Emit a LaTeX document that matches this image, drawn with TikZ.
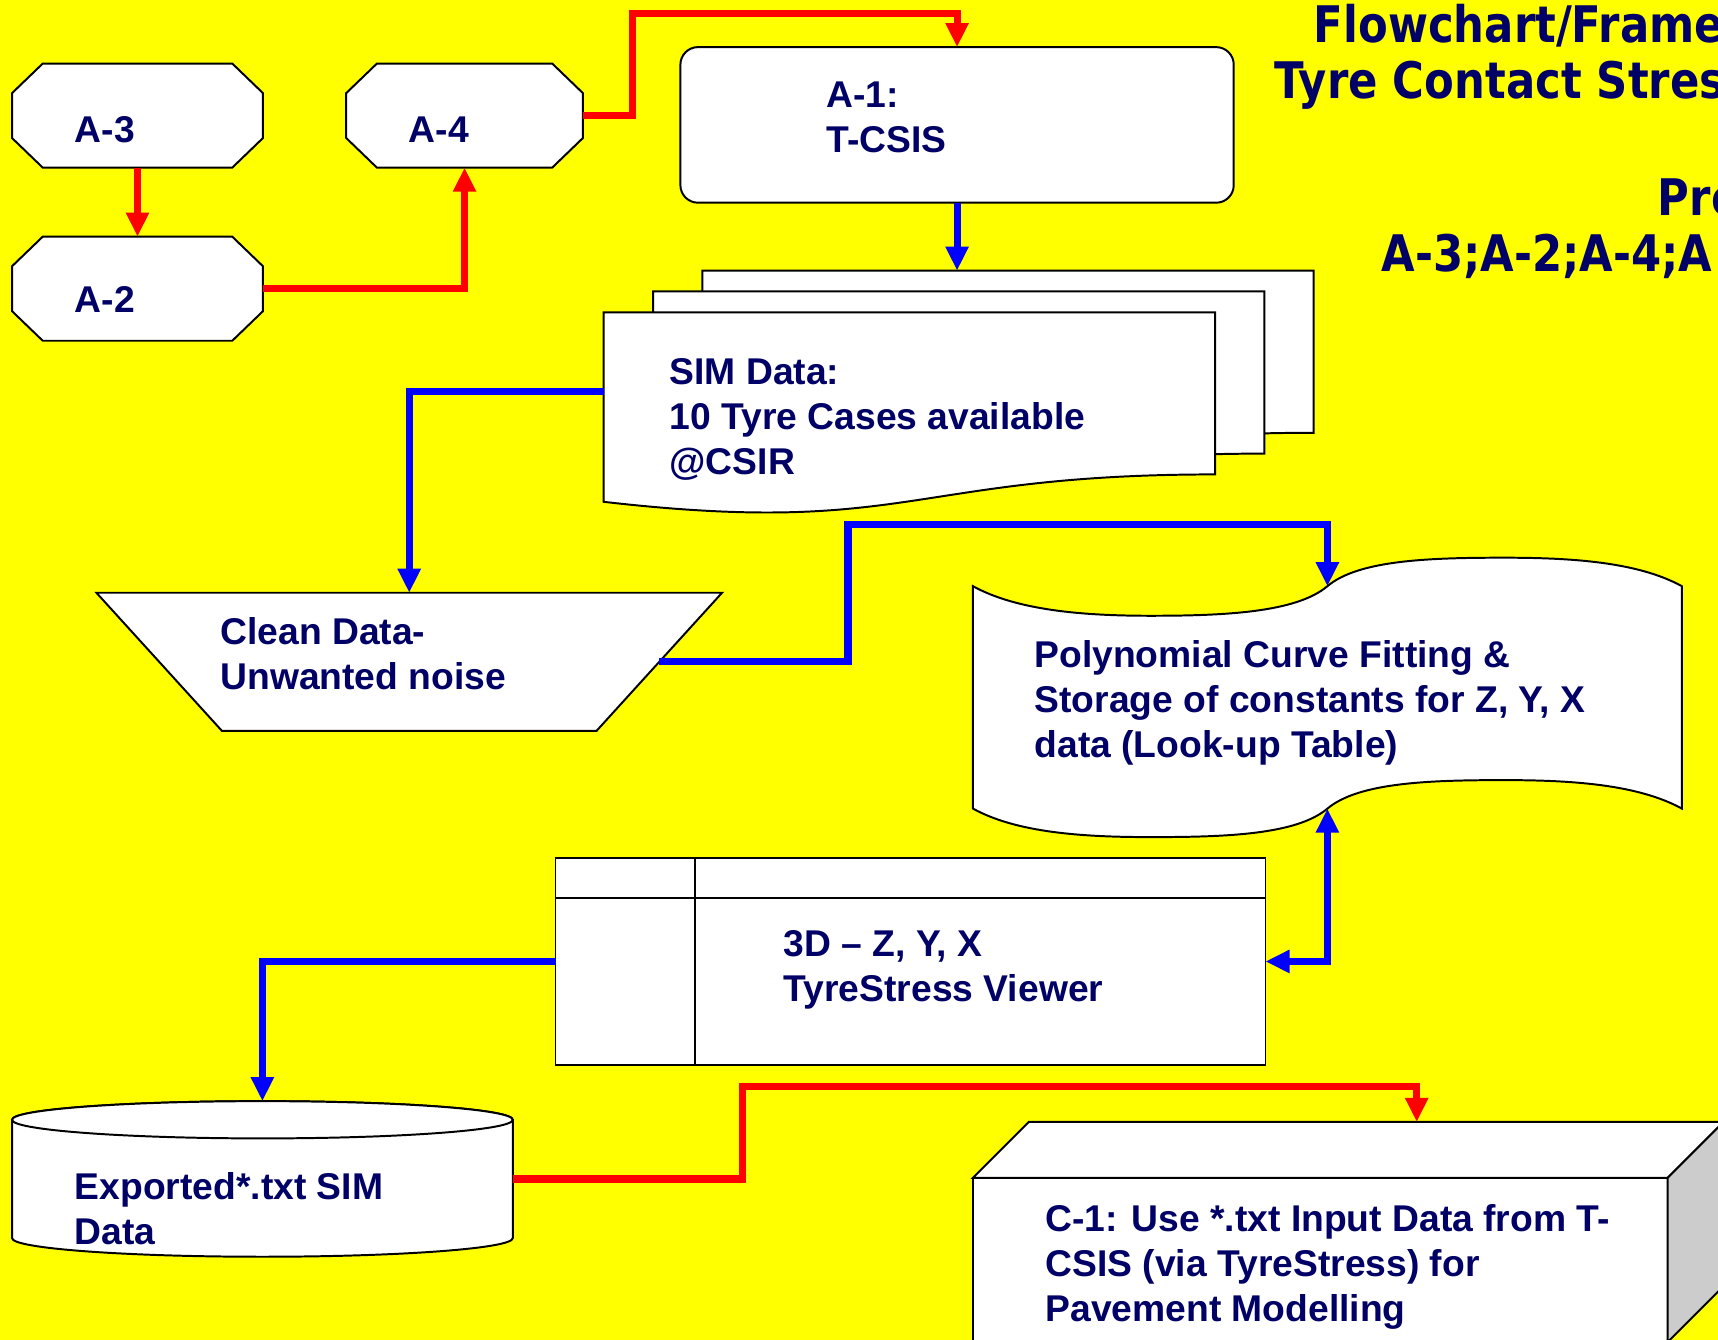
\documentclass[tikz,border=0pt]{standalone}
\usepackage{fontspec}
\setmainfont{Liberation Sans}
\newfontfamily\titlefont{DejaVu Sans}[FakeStretch=0.86]
\usetikzlibrary{arrows.meta,calc}
\definecolor{bgyellow}{RGB}{255,255,0}
\definecolor{navy}{RGB}{0,0,102}
\definecolor{cred}{RGB}{255,0,0}
\definecolor{cblue}{RGB}{0,0,255}
\definecolor{sidegray}{RGB}{204,204,204}
\begin{document}
\begin{tikzpicture}[x=1pt,y=-1pt,
  frame/.style 2 args={draw=none, minimum width=#1pt, minimum height=#2pt, inner sep=0pt, outer sep=0pt},
  shapeline/.style={draw=black, line width=1.8pt, fill=white, line join=miter},
  boxtext/.style={anchor=base west, align=left, text=navy, inner sep=0pt, font=\fontsize{34}{41}\selectfont\bfseries},
  titletext/.style={anchor=base west, text=navy, inner sep=0pt, font=\titlefont\bfseries\fontsize{46}{50}\selectfont},
  redconn/.style={draw=cred, line width=6.5pt, -{Triangle[width=20pt,length=22pt]}},
  blueconn/.style={draw=cblue, line width=6.5pt, -{Triangle[width=20pt,length=22pt]}}
]
\useasboundingbox (0,0) rectangle (1568,1223);
\clip (0,0) rectangle (1568,1223);
\fill[bgyellow] (0,0) rectangle (1568,1223);

% ---- frames (named nodes) ----
\node[frame={229}{95}] (a3) at (125.5,105.5) {};
\node[frame={229}{95}] (a2) at (125.5,263.5) {};
\node[frame={216}{95}] (a4) at (424,105.5) {};
\node[frame={505}{142}, shapeline, rounded corners=16pt] (a1) at (873.5,114) {};
\node[frame={558}{185}] (sim) at (830,377.5) {};
\node[frame={571}{126}] (clean) at (373.5,604) {};
\node[frame={647}{203}] (poly) at (1211.5,636.5) {};
\node[frame={648}{189}, shapeline] (view) at (831,877.5) {};
\node[frame={457}{142}] (cyl) at (239.5,1076) {};
\node[frame={634}{150}, shapeline] (c1) at (1205,1150) {};

% ---- octagons ----
\foreach \n in {a3,a2,a4}
  \draw[shapeline] ($(\n.north west)+(28,0)$) -- ($(\n.north east)+(-28,0)$)
    -- ($(\n.north east)+(0,27)$) -- ($(\n.south east)+(0,-27)$)
    -- ($(\n.south east)+(-28,0)$) -- ($(\n.south west)+(28,0)$)
    -- ($(\n.south west)+(0,-27)$) -- ($(\n.north west)+(0,27)$) -- cycle;

% ---- multi-document ----
\foreach \dx/\dy in {90/-38,45/-19,0/0}
  \draw[shapeline] ($(sim.north west)+(\dx,\dy)$) -- ++(558,0) -- ++(0,148)
    .. controls +(-279,0) and +(279,32) .. ++(-558,25) -- cycle;
\coordinate (simback) at ($(sim.north west)+(90,-38)$);
\coordinate (simL) at ($(sim.north west)+(0,72)$);

% ---- trapezoid ----
\draw[shapeline] (clean.north west) -- (clean.north east) -- ($(clean.south east)+(-114.5,0)$)
  -- ($(clean.south west)+(114.5,0)$) -- cycle;
\coordinate (cleanR) at ($(clean.east)+(-57.25,0)$);

% ---- punched tape ----
\begin{scope}[shift={(poly.north west)}]
\draw[shapeline] (0,0) .. controls (40,22) and (100,27) .. (162,27)
  .. controls (230,27) and (295,24) .. (323.5,0)
  .. controls (352,-24) and (417,-26) .. (485,-26)
  .. controls (547,-26) and (607,-22) .. (647,0) -- (647,203)
  .. controls (607,181) and (547,177) .. (485,177)
  .. controls (417,177) and (352,179) .. (323.5,203)
  .. controls (295,227) and (230,229) .. (162,229)
  .. controls (100,229) and (40,225) .. (0,203) -- cycle;
\end{scope}

% ---- internal storage lines ----
\draw[line width=1.8pt] ($(view.north west)+(0,37)$) -- ($(view.north east)+(0,37)$);
\draw[line width=1.8pt] ($(view.north west)+(127,0)$) -- ($(view.south west)+(127,0)$);

% ---- cylinder ----
\draw[shapeline] ($(cyl.north west)+(0,17)$) -- ($(cyl.south west)+(0,-17)$)
  arc[start angle=180, end angle=0, x radius=228.5, y radius=17]
  -- ($(cyl.north east)+(0,17)$)
  arc[start angle=0, end angle=-180, x radius=228.5, y radius=17] -- cycle;
\draw[shapeline] ($(cyl.north)+(0,17)$) ellipse[x radius=228.5, y radius=17];

% ---- cube ----
\draw[shapeline] (c1.north west) -- ++(51,-51) -- ++(634,0) -- (c1.north east) -- cycle;
\draw[shapeline, fill=sidegray] (c1.north east) -- ++(51,-51) -- ++(0,150) -- (c1.south east) -- cycle;
\coordinate (c1top) at ($(c1.north west)+(405,-51)$);

% ---- connectors ----
\coordinate (r1) at (577,12);
\coordinate (b1) at (774,479);
\coordinate (r2) at (678,992);
\draw[redconn] (a3.south) -- (a2.north);
\draw[redconn] (a2.east) -| (a4.south);
\draw[redconn] (a4.east) -| (r1) -| (a1.north);
\draw[blueconn] (a1.south) -- (a1.south |- simback);
\draw[blueconn] (simL) -| (clean.north);
\draw[blueconn] (cleanR) -| (b1) -| (poly.north);
\draw[draw=cblue, line width=6.5pt, {Triangle[width=20pt,length=22pt]}-{Triangle[width=20pt,length=22pt]}] (view.east) -| (poly.south);
\draw[blueconn] (view.west) -| (cyl.north);
\draw[redconn] (cyl.east) -| (r2) -| (c1top);

% ---- texts (base = baseline of last line) ----
\node[boxtext] (ta3) at (68,130) {A-3};
\node[boxtext] (ta2) at (68,285) {A-2};
\node[boxtext] (ta4) at (373,130) {A-4};
\node[boxtext] (ta1) at (754,139) {A-1:\\T-CSIS};
\node[boxtext] (tsim) at (611,433) {SIM Data:\\10 Tyre Cases available\\@CSIR};
\node[boxtext] (tclean) at (201,629) {Clean Data-\\Unwanted noise};
\node[boxtext] (tpoly) at (944,691) {Polynomial Curve Fitting \&\\Storage of constants for Z, Y, X\\data (Look-up Table)};
\node[boxtext] (tview) at (715,914) {3D – Z, Y, X\\TyreStress Viewer};
\node[boxtext] (tcyl) at (68,1136) {Exported*.txt SIM\\Data};
\node[boxtext] (tc1) at (954,1206) {C-1: Use *.txt Input Data from T-\\CSIS (via TyreStress) for\\Pavement Modelling};

\node[titletext] (title1) at (1199,39) {Flowchart/Frame};
\node[titletext] (title2) at (1163,90) {Tyre Contact Stres};
\node[titletext] (title3) at (1513,197) {Pre};
\node[titletext] (title4) at (1261,248) {A-3;A-2;A-4;A};
\end{tikzpicture}
\end{document}
